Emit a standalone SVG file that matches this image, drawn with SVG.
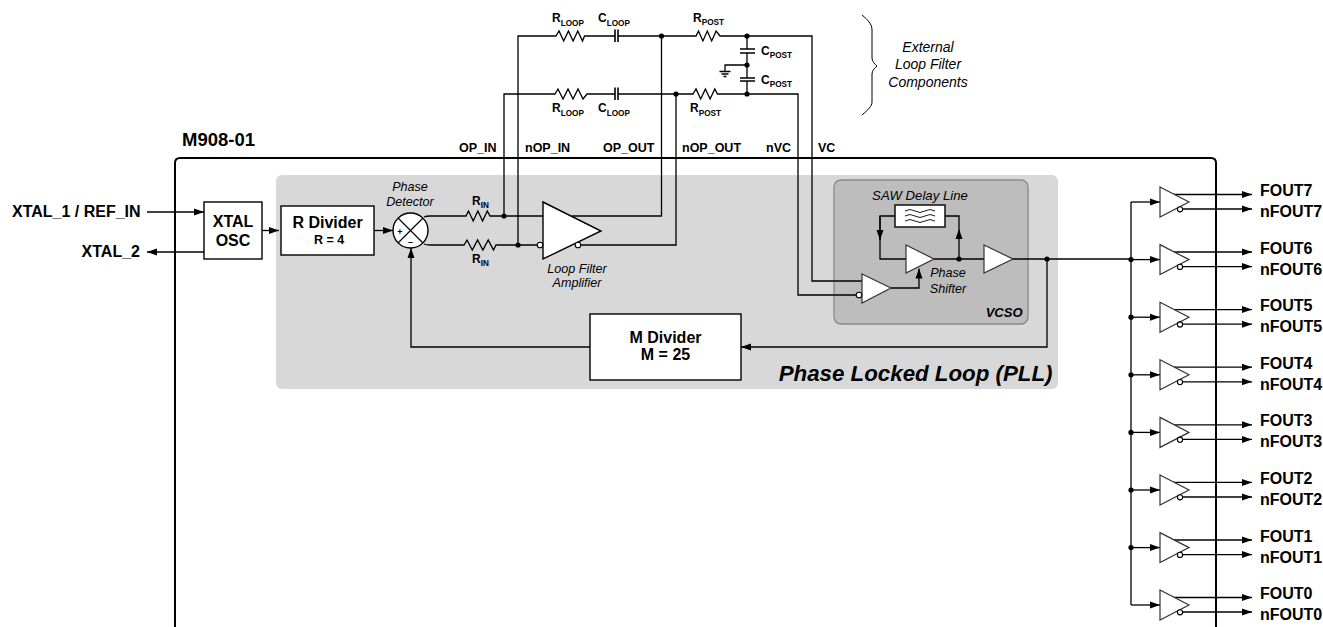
<svg xmlns="http://www.w3.org/2000/svg" width="1323" height="627" viewBox="0 0 1323 627">
<style>
text{font-family:"Liberation Sans",Arial,sans-serif;fill:#000}
.b{font-weight:700}
.i{font-style:italic}
.m{font-size:12.5px;font-weight:700}
.o{font-size:16px;font-weight:700}
.p{font-size:12px;font-weight:700}
.s{font-size:8.2px;font-weight:700}
.e{font-size:14px;font-style:italic}
.f{font-size:12.6px;font-style:italic}
.w{fill:none;stroke:#000;stroke-width:1.3}
.a{fill:none;stroke:#000;stroke-width:1.3;marker-end:url(#arr)}
.n{fill:#fff;stroke:#000;stroke-width:1.4}
.t{fill:#fff;stroke:#333;stroke-width:1.2}
.c{fill:#fff;stroke:#000;stroke-width:1.1}
.j{fill:#000}
</style>
<defs>
<marker id="arr" markerUnits="userSpaceOnUse" markerWidth="11" markerHeight="8" refX="10" refY="4" orient="auto"><path d="M0 0.500L10 4L0 7.500Z" fill="#000"/></marker>
<g id="buf"><path d="M0 -15L29 0L0 15Z" class="t"/><circle cx="20" cy="7.300" r="2.600" class="c"/></g>
</defs>
<rect width="1323" height="627" fill="#fff"/>
<g id="chip"><path d="M175 627V163Q175 158 180 158H1211Q1216 158 1216 163V627" fill="none" stroke="#000" stroke-width="2"/><text x="182" y="146" class="b" font-size="18.500">M908-01</text></g>
<g id="pll"><rect x="276" y="175" width="782" height="214" rx="6" fill="#d8d8d8"/><text x="1052.500" y="381" text-anchor="end" class="b i" font-size="22.300">Phase Locked Loop (PLL)</text></g>
<g id="vcso"><rect x="834" y="180" width="194" height="144" rx="7" fill="#bdbdbd" stroke="#888" stroke-width="1.300"/><text x="1022.500" y="317" text-anchor="end" class="b i" font-size="13">VCSO</text></g>
<g id="connectors">
<path class="a" d="M147 212H204"/><path class="a" d="M204 252H147"/>
<path class="a" d="M262 230.500H279"/><path class="a" d="M374 230.500H393"/>
<path class="a" d="M590 347H411V248"/>
<path class="a" d="M1047 259V347H741"/>
<path class="w" d="M424 217Q426 216 430 216H466l2.500 -5 4.700 10 4.700 -10 4.700 10 4.700 -10 2.700 5H543"/>
<path class="w" d="M424 244Q426 245 430 245H464l3 -5 5.300 10 5.300 -10 5.300 10 5.300 -10 5.300 10 2.500 -5H537"/>
<path class="w" d="M504 216V94H555l3 -5 5 10 5 -10 5 10 5 -10 5 10 4 -5H615M618 94H676"/>
<path class="w" d="M518 245V36H556l3 -5 4.700 10 4.700 -10 4.700 10 4.700 -10 4.700 10 2 -5H615M618 36H661.500"/>
<path class="w" d="M615 87.500V100M618 87.500V100M615 29.500V42M618 29.500V42" style="stroke-width:1.600"/>
<path class="w" d="M572 216H661.500V36"/>
<path class="w" d="M581 245H676V94"/>
<path class="w" d="M661.500 36H696l2.500 -5 4.400 10 4.400 -10 4.400 10 4.400 -10 3.900 5H812V281H862"/>
<path class="w" d="M676 94H693l3 -5 4.700 10 4.700 -10 4.700 10 4.700 -10 2.700 5H798V295H857"/>
<path class="w" d="M747 36V49M747 53V78M747 81V94M740 49H755M740 53H755M740 78H755M740 81H755"/>
<path class="w" d="M747 65H725V71M719.500 71.500H730.500M721.500 74H728.500M723.500 76.500H726.500"/>
<path class="w" d="M862 15C868 20 872 24 872 30V58C872 62 875 64 877 66C875 68 872 70 872 74V102C872 106 868 110 862 115" style="stroke-width:1"/>
<path class="w" d="M895 216H880V259H906"/><path class="a" d="M880 216V240"/>
<path class="w" d="M934 259H984M959 229V216H945"/><path class="a" d="M959 259V229"/>
<path class="a" d="M891 288H919V268.500"/>
<path class="w" d="M1013 259H1131"/>
<path class="w" d="M1131 202V605"/>
<path class="a" d="M1131 202H1160"/><path class="a" d="M1131 259.600H1160"/><path class="a" d="M1131 317.200H1160"/><path class="a" d="M1131 374.800H1160"/><path class="a" d="M1131 432.400H1160"/><path class="a" d="M1131 490H1160"/><path class="a" d="M1131 547.600H1160"/><path class="a" d="M1131 605H1160"/>
<path class="a" d="M1172 194.500H1252"/><path class="a" d="M1183 209H1252"/>
<path class="a" d="M1172 252H1252"/><path class="a" d="M1183 266.600H1252"/>
<path class="a" d="M1172 309.600H1252"/><path class="a" d="M1183 324.200H1252"/>
<path class="a" d="M1172 367.200H1252"/><path class="a" d="M1183 381.800H1252"/>
<path class="a" d="M1172 424.800H1252"/><path class="a" d="M1183 439.400H1252"/>
<path class="a" d="M1172 482.400H1252"/><path class="a" d="M1183 497H1252"/>
<path class="a" d="M1172 540H1252"/><path class="a" d="M1183 554.600H1252"/>
<path class="a" d="M1172 597.500H1252"/><path class="a" d="M1183 612H1252"/>
<g class="j"><circle cx="661.500" cy="36" r="2.600"/><circle cx="747" cy="36" r="2.600"/><circle cx="747" cy="65" r="2.600"/><circle cx="747" cy="94" r="2.600"/><circle cx="676" cy="94" r="2.600"/><circle cx="504" cy="216" r="2.600"/><circle cx="518" cy="245" r="2.600"/><circle cx="959" cy="259" r="2.600"/><circle cx="1047" cy="259" r="2.600"/><circle cx="1131" cy="259.600" r="2.600"/><circle cx="1131" cy="317.200" r="2.600"/><circle cx="1131" cy="374.800" r="2.600"/><circle cx="1131" cy="432.400" r="2.600"/><circle cx="1131" cy="490" r="2.600"/><circle cx="1131" cy="547.600" r="2.600"/></g>
</g>
<g id="xtal-osc"><rect x="204" y="202" width="58" height="57" class="n"/><text x="233" y="227" text-anchor="middle" class="b" font-size="16">XTAL</text><text x="233" y="245.500" text-anchor="middle" class="b" font-size="16">OSC</text></g>
<g id="r-divider"><rect x="281" y="206" width="93" height="49" class="n"/><text x="327.500" y="228" text-anchor="middle" class="b" font-size="16">R Divider</text><text x="329" y="244" text-anchor="middle" class="b" font-size="12.500">R = 4</text></g>
<g id="m-divider"><rect x="590" y="314" width="151" height="66" class="n"/><text x="665.500" y="343" text-anchor="middle" class="b" font-size="16">M Divider</text><text x="665.500" y="360" text-anchor="middle" class="b" font-size="16">M = 25</text></g>
<g id="phase-detector"><circle cx="410.500" cy="230.500" r="17.500" class="n"/><path d="M398 218L423 243M423 218L398 243" class="w" style="stroke-width:1.200"/><text x="400" y="235" text-anchor="middle" class="b" font-size="9">+</text><text x="410.500" y="245" text-anchor="middle" class="b" font-size="9">–</text><text x="410" y="191" text-anchor="middle" class="f">Phase</text><text x="410" y="206" text-anchor="middle" class="f">Detector</text></g>
<g id="loop-filter-amp"><path d="M543 202L601 231L543 259Z" class="n"/><circle cx="540" cy="245" r="2.800" class="c"/><circle cx="578" cy="245" r="2.800" class="c"/><text x="577" y="273" text-anchor="middle" class="f">Loop Filter</text><text x="577" y="287" text-anchor="middle" class="f">Amplifier</text></g>
<g id="saw"><rect x="895" y="205" width="50" height="22" class="n"/><path d="M905 211q5 -3 10 0t10 0 10 0M905 216q5 -3 10 0t10 0 10 0M905 221q5 -3 10 0t10 0 10 0" class="w" style="stroke-width:0.900"/><text x="920" y="200" text-anchor="middle" class="f" style="font-size:13.200px">SAW Delay Line</text></g>
<g id="phase-shifter"><path d="M906 245L934 259L906 273Z" class="t"/><text x="948" y="277" text-anchor="middle" class="f">Phase</text><text x="948" y="293" text-anchor="middle" class="f">Shifter</text></g>
<g id="vcso-out"><path d="M984 245L1013 259L984 273Z" class="t"/></g>
<g id="vcso-in"><path d="M862 274L891 288L862 303Z" class="t"/><circle cx="859" cy="295" r="2.800" class="c"/></g>
<g id="labels">
<text x="12" y="217" class="o">XTAL_1 / REF_IN</text>
<text x="140" y="257" text-anchor="end" class="o">XTAL_2</text>
<text x="459" y="152" class="m">OP_IN</text><text x="525" y="152" class="m">nOP_IN</text><text x="603" y="152" class="m">OP_OUT</text><text x="682" y="152" class="m">nOP_OUT</text><text x="766" y="152" class="m">nVC</text><text x="818" y="152" class="m">VC</text>
<text x="552" y="22" class="p">R<tspan class="s" dy="4">LOOP</tspan></text>
<text x="598" y="22" class="p">C<tspan class="s" dy="4">LOOP</tspan></text>
<text x="693" y="22" class="p">R<tspan class="s" dy="3">POST</tspan></text>
<text x="761" y="55" class="p">C<tspan class="s" dy="3">POST</tspan></text>
<text x="761" y="84" class="p">C<tspan class="s" dy="3">POST</tspan></text>
<text x="552" y="112" class="p">R<tspan class="s" dy="4">LOOP</tspan></text>
<text x="598" y="112" class="p">C<tspan class="s" dy="4">LOOP</tspan></text>
<text x="690" y="112" class="p">R<tspan class="s" dy="4">POST</tspan></text>
<text x="472" y="205" class="p">R<tspan class="s" dy="3">IN</tspan></text>
<text x="472" y="263" class="p">R<tspan class="s" dy="3">IN</tspan></text>
<text x="928" y="51.500" text-anchor="middle" class="e">External</text><text x="928" y="69" text-anchor="middle" class="e">Loop Filter</text><text x="928" y="86.500" text-anchor="middle" class="e">Components</text>
</g>
<g id="fout7"><use href="#buf" x="1160" y="202"/><text x="1260" y="196" class="o">FOUT7</text><text x="1260" y="217" class="o">nFOUT7</text></g>
<g id="fout6"><use href="#buf" x="1160" y="259.600"/><text x="1260" y="253.600" class="o">FOUT6</text><text x="1260" y="274.600" class="o">nFOUT6</text></g>
<g id="fout5"><use href="#buf" x="1160" y="317.200"/><text x="1260" y="311.200" class="o">FOUT5</text><text x="1260" y="332.200" class="o">nFOUT5</text></g>
<g id="fout4"><use href="#buf" x="1160" y="374.800"/><text x="1260" y="368.800" class="o">FOUT4</text><text x="1260" y="389.800" class="o">nFOUT4</text></g>
<g id="fout3"><use href="#buf" x="1160" y="432.400"/><text x="1260" y="426.400" class="o">FOUT3</text><text x="1260" y="447.400" class="o">nFOUT3</text></g>
<g id="fout2"><use href="#buf" x="1160" y="490"/><text x="1260" y="484" class="o">FOUT2</text><text x="1260" y="505" class="o">nFOUT2</text></g>
<g id="fout1"><use href="#buf" x="1160" y="547.600"/><text x="1260" y="541.600" class="o">FOUT1</text><text x="1260" y="562.600" class="o">nFOUT1</text></g>
<g id="fout0"><use href="#buf" x="1160" y="605"/><text x="1260" y="599" class="o">FOUT0</text><text x="1260" y="620" class="o">nFOUT0</text></g>
</svg>
